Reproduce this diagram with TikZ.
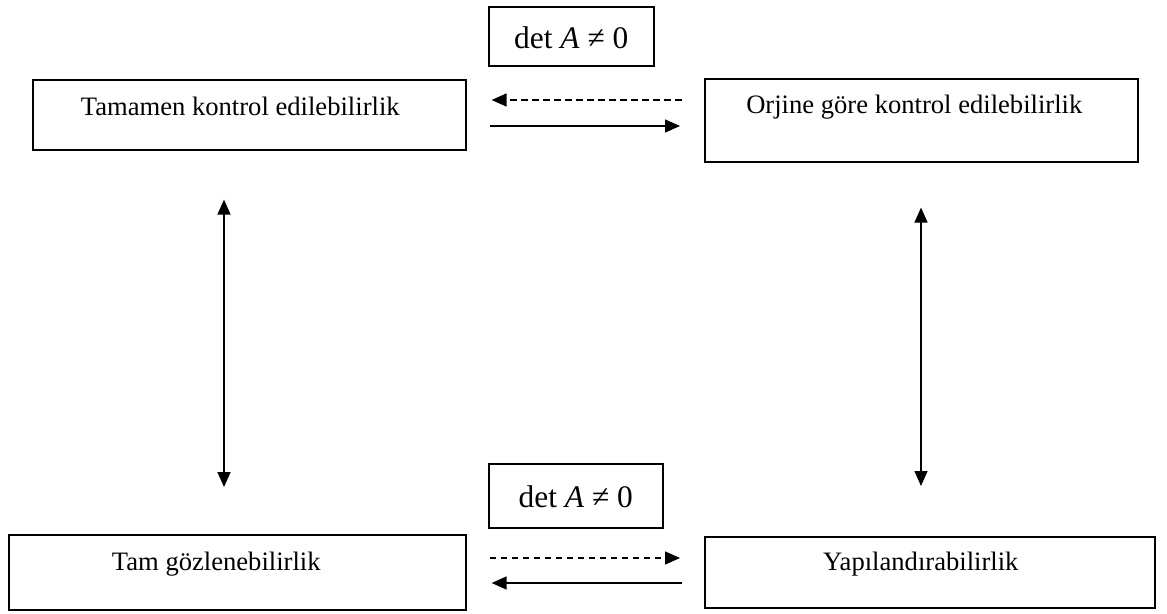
\documentclass[tikz,border=0pt]{standalone}
\usepackage{fontspec}
\setmainfont{Liberation Serif}
\usepackage{tikz}
\usetikzlibrary{arrows.meta,positioning,calc}

\begin{document}
\begin{tikzpicture}[
    x=0.5pt, y=-0.5pt,
    box/.style={rectangle, draw, line width=0.8pt, inner sep=0pt, anchor=north west,
        font=\fontsize{13.3}{16}\selectfont},
    detbox/.style={box, font=\fontsize{15.7}{18}\selectfont},
    arrow/.style={-{Triangle[length=7.5pt, width=6.5pt]}, line width=0.7pt},
    dasharrow/.style={arrow, dash pattern=on 3.3pt off 2.2pt}
]
    \useasboundingbox (0,0) rectangle (1167,614);

    % Top row
    \node[box, minimum width=216.5pt, text height=18pt, text depth=17pt] (tamkontrol) at (32,79)
        {Tamamen kontrol edilebilirlik\hspace*{9pt}};
    \node[box, minimum width=216.5pt, text height=17.5pt, text depth=24pt] (orjine) at (704,78)
        {Orjine göre kontrol edilebilirlik\hspace*{7pt}};
    \node[detbox, minimum width=82.5pt, text height=21pt, text depth=8.5pt] (detust) at (488,6)
        {det \textit{A} ≠ 0};

    % Bottom row
    \node[box, minimum width=228.5pt, text height=18pt, text depth=19.5pt] (tamgozlem) at (8,534)
        {Tam gözlenebilirlik\hspace*{21pt}};
    \node[box, minimum width=225pt, text height=17pt, text depth=18.5pt] (yapi) at (704,536)
        {Yapılandırabilirlik\hspace*{9pt}};
    \node[detbox, minimum width=87pt, text height=22pt, text depth=10pt] (detalt) at (488,463)
        {det \textit{A} ≠ 0};

    % Horizontal arrows
    \draw[dasharrow] ($(orjine.north west)+(-22,22)$) -- ($(tamkontrol.north east)+(25,21)$);
    \draw[arrow] ($(tamkontrol.north east)+(23,47)$) -- ($(orjine.north west)+(-24,48)$);
    \draw[dasharrow] ($(tamgozlem.north east)+(23,24)$) -- ($(yapi.north west)+(-24,22)$);
    \draw[arrow] ($(yapi.north west)+(-22,47)$) -- ($(tamgozlem.north east)+(25,49)$);

    % Vertical arrows
    \draw[arrow, {Triangle[length=7.5pt, width=6.5pt]}-{Triangle[length=7.5pt, width=6.5pt]}]
        ($(tamkontrol.south west)+(192,49)$) -- ($(tamgozlem.north west)+(216,-47)$);
    \draw[arrow, {Triangle[length=7.5pt, width=6.5pt]}-{Triangle[length=7.5pt, width=6.5pt]}]
        ($(orjine.south west)+(217,45)$) -- ($(yapi.north west)+(217,-50)$);
\end{tikzpicture}
\end{document}
